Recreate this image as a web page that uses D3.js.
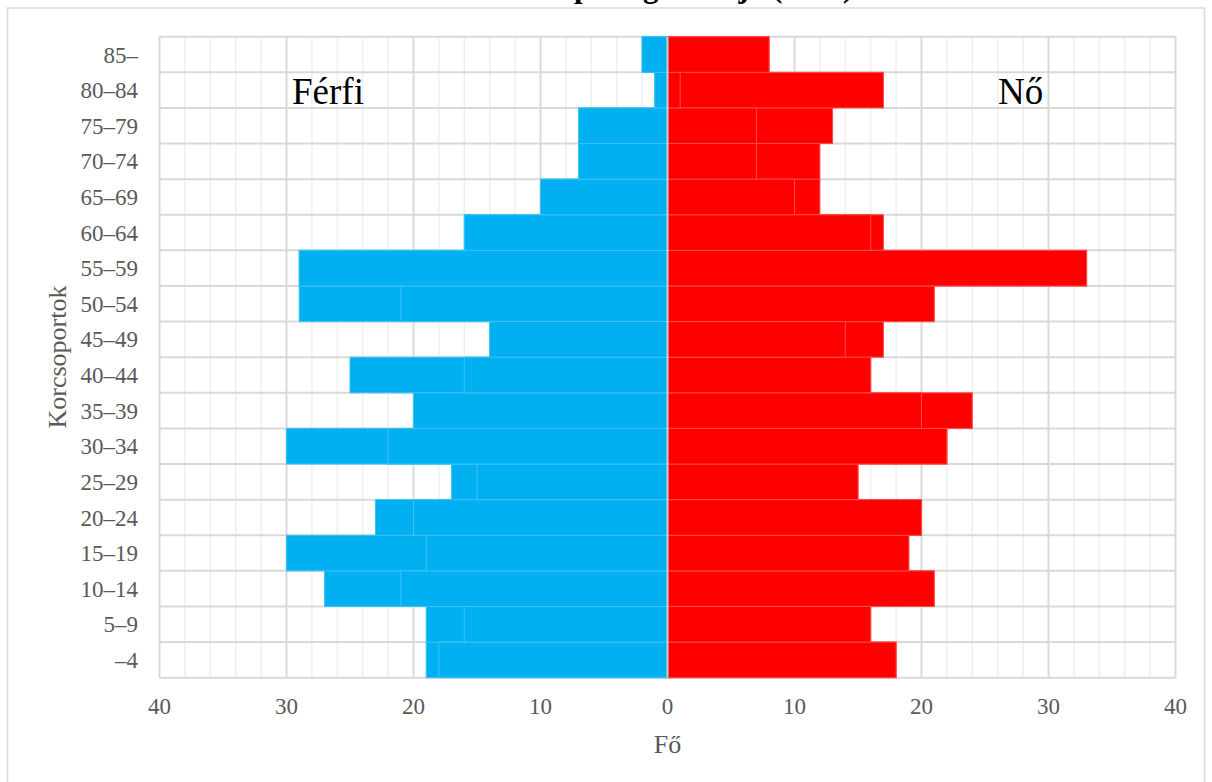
<!DOCTYPE html>
<html>
<head>
<meta charset="utf-8">
<script src="https://cdn.jsdelivr.net/npm/d3@7"></script>
<style>
  body { margin: 0; background: #fff; }
  svg { display: block; }
  text { font-family: "Liberation Serif", "Times New Roman", serif; }
</style>
</head>
<body>
<svg id="chart" width="1212" height="782"></svg>
<script>
// Age groups, listed from the youngest (bottom) to the oldest (top)
const categories = ["–4","5–9","10–14","15–19","20–24","25–29","30–34","35–39","40–44","45–49","50–54","55–59","60–64","65–69","70–74","75–79","80–84","85–"];
// Two overlapping series per sex (back series drawn first, front series on top)
const maleBack    = [19, 19, 27, 30, 23, 17, 30, 20, 25, 14, 29, 29, 16, 10, 7, 7, 1, 2];
const maleFront   = [18, 16, 21, 19, 20, 15, 22, 20, 16, 14, 21, 29, 16, 10, 7, 7, 1, 2];
const femaleBack  = [18, 16, 21, 19, 20, 15, 22, 24, 16, 17, 21, 33, 17, 12, 12, 13, 17, 8];
const femaleFront = [18, 16, 21, 19, 20, 15, 22, 20, 16, 14, 21, 33, 16, 10, 7, 7, 1, 8];
const xTicks = [-40, -30, -20, -10, 0, 10, 20, 30, 40];
const minorTicks = d3.range(-40, 41, 2).filter(v => v % 10 !== 0);
const titleText = "Népesség korfája (2011)";
const xTitle = "Fő";
const yTitle = "Korcsoportok";
const maleLabel = "Férfi";
const femaleLabel = "Nő";

const svg = d3.select("#chart");
const W = 1212, H = 782;
const plot = { left: 159.5, right: 1175.5, top: 36.7, bottom: 677.7 };

const x = d3.scaleLinear().domain([-40, 40]).range([plot.left, plot.right]);
const y = d3.scaleBand().domain(categories.slice().reverse()).range([plot.top, plot.bottom]).padding(0);

// chart frame
svg.append("rect").attr("x", 7.5).attr("y", 8).attr("width", 1197).attr("height", H)
  .attr("fill", "#fff").attr("stroke", "#d9d9d9").attr("stroke-width", 1.5);

// title (cut off at the top edge, as in the reference)
svg.append("text").attr("x", 853).attr("y", -3).attr("text-anchor", "end")
  .attr("font-size", 31).attr("font-weight", "bold").attr("fill", "#000").text(titleText);

const g = svg.append("g");

// minor vertical gridlines
g.selectAll("line.minor").data(minorTicks).join("line").attr("class", "minor")
  .attr("x1", d => x(d)).attr("x2", d => x(d)).attr("y1", plot.top).attr("y2", plot.bottom)
  .attr("stroke", "#ededed").attr("stroke-width", 1.3);
// major vertical gridlines
g.selectAll("line.major").data(xTicks).join("line").attr("class", "major")
  .attr("x1", d => x(d)).attr("x2", d => x(d)).attr("y1", plot.top).attr("y2", plot.bottom)
  .attr("stroke", "#d9d9d9").attr("stroke-width", 2);
// horizontal gridlines between categories
const bounds = categories.map(c => y(c)).concat([plot.bottom]);
g.selectAll("line.h").data(bounds).join("line").attr("class", "h")
  .attr("x1", plot.left).attr("x2", plot.right).attr("y1", d => d).attr("y2", d => d)
  .attr("stroke", "#d9d9d9").attr("stroke-width", 2);

function drawBars(vals, sign, fill, stroke) {
  g.append("g").selectAll("rect").data(categories.map((c, i) => ({ c, v: vals[i] }))).join("rect")
    .attr("x", d => sign < 0 ? x(-d.v) : x(0))
    .attr("width", d => Math.abs(x(d.v) - x(0)))
    .attr("y", d => y(d.c))
    .attr("height", y.bandwidth())
    .attr("fill", fill)
    .attr("stroke", stroke).attr("stroke-width", 1);
}
drawBars(maleBack, -1, "#00b0f0", "#3cc2f3");
drawBars(maleFront, -1, "#00b0f0", "#3cc2f3");
drawBars(femaleBack, 1, "#ff0000", "#ff4a4a");
drawBars(femaleFront, 1, "#ff0000", "#ff4a4a");

// zero axis line
g.append("line").attr("x1", x(0)).attr("x2", x(0)).attr("y1", plot.top).attr("y2", plot.bottom)
  .attr("stroke", "#cfcfcf").attr("stroke-width", 2);

// x tick labels
g.selectAll("text.xt").data(xTicks).join("text").attr("class", "xt")
  .attr("x", d => x(d)).attr("y", 714).attr("text-anchor", "middle")
  .attr("font-size", 23).attr("fill", "#595959").text(d => Math.abs(d));

// category labels
g.selectAll("text.yt").data(categories).join("text").attr("class", "yt")
  .attr("x", 138).attr("y", d => y(d) + y.bandwidth() / 2).attr("dy", "0.35em")
  .attr("text-anchor", "end").attr("font-size", 23).attr("fill", "#595959").text(d => d);

// axis titles
svg.append("text").attr("x", x(0)).attr("y", 753).attr("text-anchor", "middle")
  .attr("font-size", 26).attr("fill", "#595959").text(xTitle);
svg.append("text").attr("transform", "translate(57,357) rotate(-90)").attr("dy", "0.35em")
  .attr("text-anchor", "middle").attr("font-size", 26).attr("fill", "#595959").text(yTitle);

// sex labels
svg.append("text").attr("x", 292).attr("y", 104).attr("font-size", 37).attr("fill", "#000").text(maleLabel);
svg.append("text").attr("x", 998).attr("y", 104).attr("font-size", 37).attr("fill", "#000").text(femaleLabel);
</script>
</body>
</html>
